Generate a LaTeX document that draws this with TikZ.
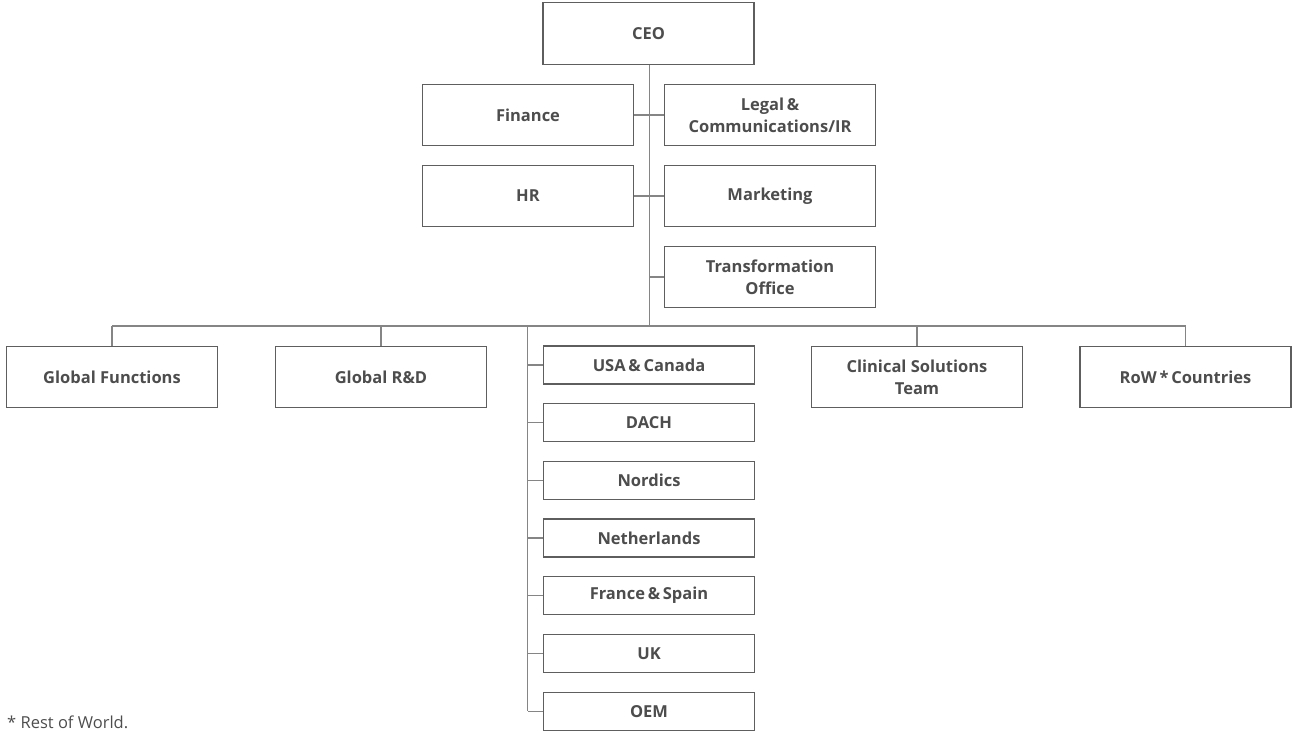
\documentclass[tikz,border=0pt]{standalone}
\usepackage{fontspec}
\setmainfont{Open Sans}
\definecolor{boxc}{HTML}{5E5E5E}
\definecolor{linec}{HTML}{858585}
\definecolor{txtc}{HTML}{4D4D4D}
\begin{document}
\begin{tikzpicture}[x=1pt,y=-1pt,
  box/.style={draw=boxc,line width=1.1pt,fill=white,minimum width=211pt,minimum height=61.5pt,
    inner sep=0pt,align=center,font=\fontsize{16.5}{22}\selectfont\bfseries,text=txtc},
  rbox/.style={box,minimum height=38pt},
  conn/.style={draw=linec,line width=1.3pt}]
\useasboundingbox (0,0) rectangle (1292,731);
% top
\node[box] (ceo) at (648.5,33.5) {CEO};
\node[box] (fin) at (528,115) {Finance};
\node[box] (leg) at (770,115) {Legal\,\&\\Communications/IR};
\node[box] (hr) at (528,196) {HR};
\node[box] (mkt) at (770,196) {Marketing};
\node[box] (tro) at (770,277) {Transformation\\Office};
% second level
\node[box] (gf) at (112,377) {Global Functions};
\node[box] (grd) at (381,377) {Global R\&D};
\node[box] (cst) at (917,377) {Clinical Solutions\\Team};
\node[box] (row) at (1185.5,377) {RoW\,*\,Countries};
% regions
\node[rbox] (usa) at (649,365) {USA\,\&\,Canada};
\node[rbox] (dach) at (649,422.5) {DACH};
\node[rbox] (nor) at (649,480.3) {Nordics};
\node[rbox] (net) at (649,538) {Netherlands};
\node[rbox] (frs) at (649,595.7) {France\,\&\,Spain};
\node[rbox] (uk) at (649,653.3) {UK};
\node[rbox] (oem) at (649,711.3) {OEM};
\coordinate (bus) at (649.3,326);
\coordinate (regx) at (527.7,326);
% connectors
\draw[conn] (ceo.south -| bus) -- (bus);
\draw[conn] (fin.east) -- (leg.west);
\draw[conn] (hr.east) -- (mkt.west);
\draw[conn] (tro.west) -- (tro.west -| bus);
\draw[conn] (gf.north |- bus) -- (row.north |- bus);
\foreach \n in {gf,grd,cst,row} \draw[conn] (\n.north) -- (\n.north |- bus);
\draw[conn] (regx) -- (regx |- oem.west);
\foreach \n in {usa,dach,nor,net,frs,uk,oem} \draw[conn] (\n.west) -- (\n.west -| regx);
\node[anchor=base west,inner sep=0pt,font=\fontsize{16.5}{18}\selectfont,text=txtc] (foot) at (7,728.5) {* Rest of World.};
\end{tikzpicture}
\end{document}
